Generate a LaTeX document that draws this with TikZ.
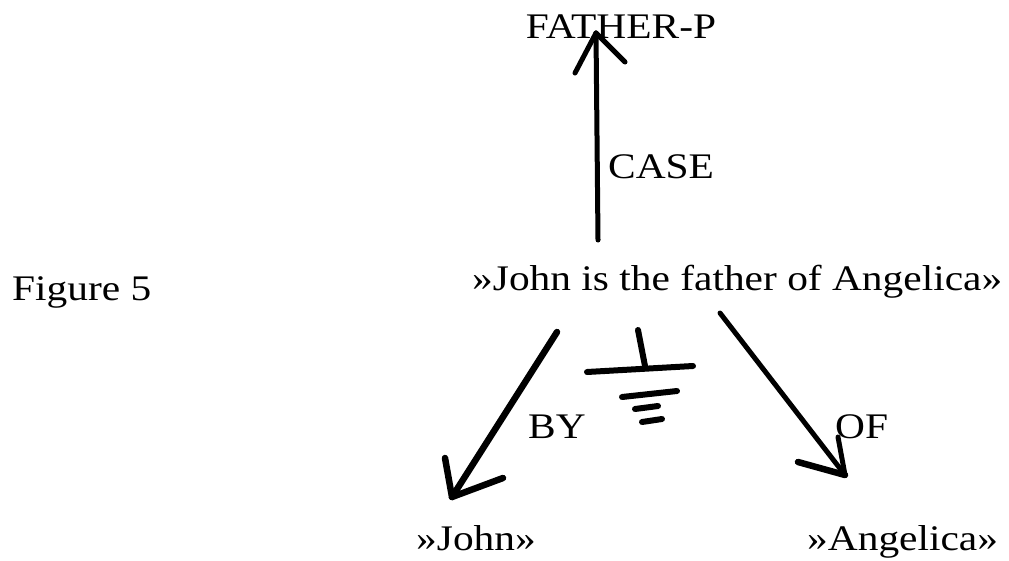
\documentclass[tikz,border=0pt]{standalone}
\usepackage{fontspec}
\setmainfont{Liberation Serif}[FakeStretch=1.15]
\begin{document}
\begin{tikzpicture}[x=1pt,y=-1pt,
  txt/.style={inner sep=0pt,font=\fontsize{36}{40}\selectfont},
  pen/.style={line width=5pt,line cap=round,line join=round}]
\useasboundingbox (0,0) rectangle (1009,560);
\node[txt,anchor=base] (father) at (621,38) {FATHER-P};
\node[txt,anchor=base west] (case) at (608,178) {CASE};
\node[txt,anchor=base west] (fig) at (12,300) {Figure 5};
\node[txt,anchor=base west] (fact) at (472,290) {»John is the father of Angelica»};
\node[txt,anchor=base] (john) at (476,550) {»John»};
\node[txt,anchor=base west] (angelica) at (807,550) {»Angelica»};
\node[txt,anchor=base west] (by) at (528,438) {BY};
\node[txt,anchor=base west] (of) at (835,438) {OF};
% arrow ends
\coordinate (casefoot) at (598,240);\coordinate (casetip) at (596,33);
\coordinate (byfoot) at (557,332);\coordinate (bytip) at (452,497);
\coordinate (offoot) at (720,313);\coordinate (oftip) at (845,475);
\draw[pen] (casefoot)--(casetip);
\draw[pen] (casetip)--++(-21,40);\draw[pen] (casetip)--++(29,29);
\draw[pen,line width=6.5pt] (byfoot)--(bytip);
\draw[pen,line width=6.5pt] (bytip)--++(-7,-39);\draw[pen,line width=6.5pt] (bytip)--++(51,-19);
\draw[pen] (offoot)--(oftip);
\draw[pen,line width=6.5pt] (oftip)--++(-47,-13);\draw[pen] (oftip)--++(-7,-38);
% the earth sign
\draw[pen,line width=6pt] (638,330)--(645,366);
\draw[pen,line width=6pt] (587,372)--(693,366);
\draw[pen,line width=6pt] (622,397)--(677,391);
\draw[pen,line width=6pt] (635,409)--(658,406);
\draw[pen,line width=6pt] (642,422)--(662,419);
\end{tikzpicture}
\end{document}
